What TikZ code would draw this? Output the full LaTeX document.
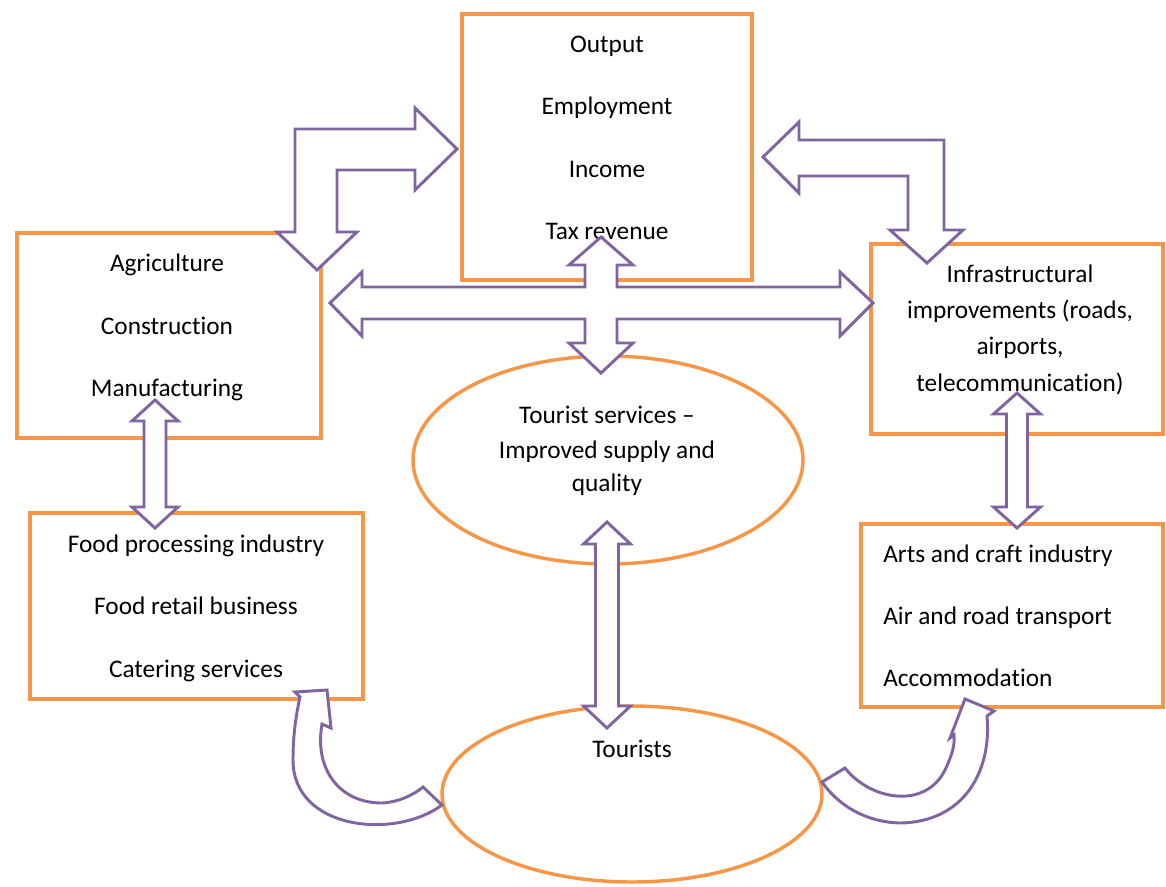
\documentclass[tikz,border=0pt]{standalone}
\usepackage{fontspec}
\setmainfont{Carlito}[Ligatures=NoCommon]
\usetikzlibrary{shapes.geometric}
\definecolor{orangeC}{HTML}{F79646}
\definecolor{purpleC}{HTML}{8064A2}
\newcommand\VDArrow[6]{%
  \draw[blk] (#1,#2) -- ({#1+#5},{#2+#6}) -- ({#1+#4},{#2+#6}) -- ({#1+#4},{#3-#6})
    -- ({#1+#5},{#3-#6}) -- (#1,#3) -- ({#1-#5},{#3-#6}) -- ({#1-#4},{#3-#6})
    -- ({#1-#4},{#2+#6}) -- ({#1-#5},{#2+#6}) -- cycle;}
\begin{document}
\begin{tikzpicture}[x=0.75pt,y=-0.75pt,
  box/.style={draw=orangeC, line width=2.6pt, rectangle, inner sep=0pt},
  ell/.style={draw=orangeC, line width=2.6pt, ellipse, inner sep=0pt},
  blk/.style={draw=purpleC, fill=white, line width=2.2pt, line join=miter},
  txt/.style={font=\fontsize{19}{23}\selectfont, inner sep=0pt, anchor=base},
  txtl/.style={txt, anchor=base west}]
\useasboundingbox (0,0) rectangle (1166,886);
% boxes
\node[box, minimum width=217.5pt, minimum height=199.5pt] (outcome) at (607,147) {};
\node[box, minimum width=228pt, minimum height=153.75pt] (primary) at (169,335.5) {};
\node[box, minimum width=219pt, minimum height=142.5pt] (infra) at (1017,339) {};
\node[box, minimum width=249.75pt, minimum height=139.5pt] (food) at (196.5,606) {};
\node[box, minimum width=226.5pt, minimum height=137.25pt] (arts) at (1012,615.5) {};
\node[ell, minimum width=292.5pt, minimum height=156pt] (services) at (608,460) {};
\node[ell, minimum width=285pt, minimum height=132pt] (tourists) at (632,794) {};
% texts
\node[txt] (t1) at (607,52) {Output};
\node[txt] (t2) at (607,114) {Employment};
\node[txt] (t3) at (607,177) {Income};
\node[txt] (t4) at (607,239) {Tax revenue};
\node[txt] (p1) at (167,271) {Agriculture};
\node[txt] (p2) at (167,334) {Construction};
\node[txt] (p3) at (167,396) {Manufacturing};
\node[txt] (i1) at (1020,282) {Infrastructural};
\node[txt] (i2) at (1020,318) {improvements (roads,};
\node[txt] (i3) at (1020,354) {airports,};
\node[txt] (i4) at (1020,391) {telecommunication)};
\node[txt] (f1) at (196,552) {Food processing industry};
\node[txt] (f2) at (196,614) {Food retail business};
\node[txt] (f3) at (196,677) {Catering services};
\node[txtl] (a1) at (883,562) {Arts and craft industry};
\node[txtl] (a2) at (883,624) {Air and road transport};
\node[txtl] (a3) at (883,686) {Accommodation};
\node[txt] (s1) at (607,423) {Tourist services –};
\node[txt] (s2) at (607,458) {Improved supply and};
\node[txt] (s3) at (607,491) {quality};
\node[txt] (tt) at (632,757) {Tourists};
% bent double arrow, left
\draw[blk] (457,149) -- (415,108) -- (415,129) -- (295,129) -- (295,232) -- (277,232)
  -- (317,270) -- (357,232) -- (337,232) -- (337,170) -- (415,170) -- (415,190) -- cycle;
% bent double arrow, right
\draw[blk] (763,157) -- (799,122) -- (799,140) -- (944,140) -- (944,230) -- (963,230)
  -- (927,263) -- (890,230) -- (908,230) -- (908,176) -- (799,176) -- (799,193) -- cycle;
% four-way arrow
\draw[blk] (330,303) -- (362,272) -- (362,287) -- (585,287) -- (585,265) -- (569,265)
  -- (601,237) -- (633,265) -- (617,265) -- (617,287) -- (840,287) -- (840,272)
  -- (873,303) -- (840,336) -- (840,319) -- (617,319) -- (617,343) -- (633,343)
  -- (601,373) -- (569,343) -- (585,343) -- (585,319) -- (362,319) -- (362,336) -- cycle;
% vertical double arrows
\VDArrow{155}{400}{528}{11}{23}{21}
\VDArrow{1017}{393}{528}{10.5}{23.5}{21}
\VDArrow{607}{522}{728}{11.5}{23.5}{22}
% curved arrow, left
\draw[blk] (295,692) -- (327,690) -- (331,728) -- (322,724)
  .. controls (314,770) and (340,803) .. (382,803)
  .. controls (398,802) and (412,796) .. (423,787) -- (442,805)
  .. controls (395,840) and (293,830) .. (293,760)
  .. controls (293,735) and (296,715) .. (300,697) -- cycle;
% curved arrow, right
\draw[blk] (822,782) -- (845,768)
  .. controls (870,800) and (925,810) .. (945,770)
  .. controls (952,755) and (955,745) .. (954,735) -- (950,738) -- (965,699)
  -- (994,711) -- (987,716)
  .. controls (992,770) and (965,822) .. (900,823)
  .. controls (865,822) and (838,805) .. (822,782) -- cycle;
\end{tikzpicture}
\end{document}
